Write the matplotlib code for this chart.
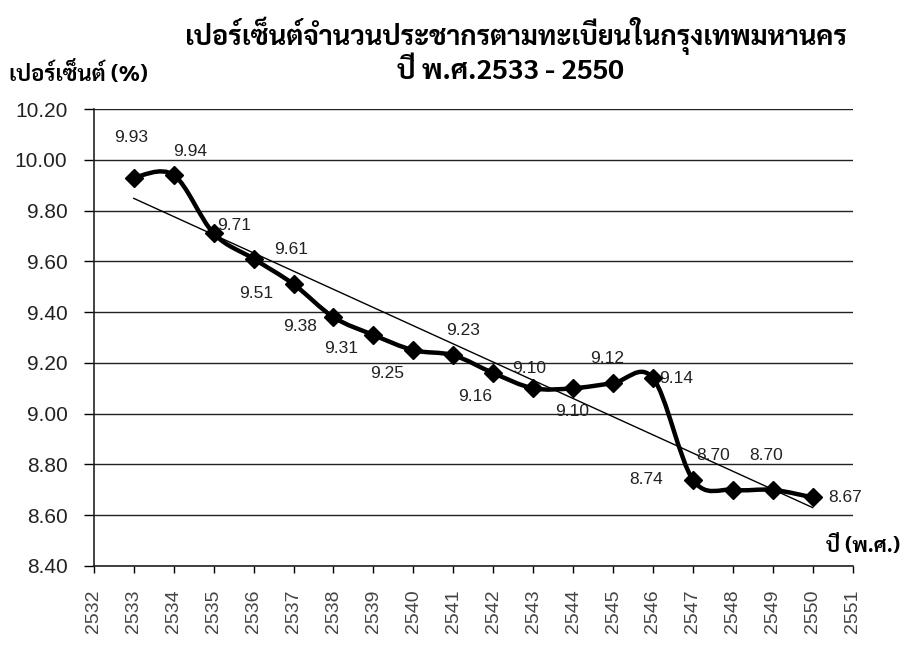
import numpy as np
import matplotlib
matplotlib.use("Agg")
import matplotlib.pyplot as plt
from matplotlib.path import Path
from matplotlib.patches import PathPatch

# ข้อมูล
years = [2533, 2534, 2535, 2536, 2537, 2538, 2539, 2540, 2541,
         2542, 2543, 2544, 2545, 2546, 2547, 2548, 2549, 2550]
percent = [9.93, 9.94, 9.71, 9.61, 9.51, 9.38, 9.31, 9.25, 9.23,
           9.16, 9.10, 9.10, 9.12, 9.14, 8.74, 8.70, 8.70, 8.67]
title_1 = "เปอร์เซ็นต์จำนวนประชากรตามทะเบียนในกรุงเทพมหานคร"
title_2 = "ปี พ.ศ.2533 - 2550"
y_name = "เปอร์เซ็นต์ (%)"
x_name = "ปี (พ.ศ.)"

# ตำแหน่งป้ายตัวเลข (จุด)
label_offsets = [(-2, 29), (12, 17), (15, 6), (27, 7), (-27, -7), (-24, -7),
                 (-23, -10), (-19, -17), (7, 18), (-13, -17), (-3, 14),
                 (-1, -17), (-4, 18), (17, 0), (-34, 0), (-14, 25),
                 (-5, 25), (23, 0)]

thai = ["Sarabun", "DejaVu Sans"]
num_font = "Liberation Sans"

fig = plt.figure(figsize=(9.11, 6.45), dpi=100)
ax = fig.add_axes([0.103, 0.1225, 0.833, 0.7085])

x = np.array(years, dtype=float)
y = np.array(percent)

# เส้นโค้งแบบ smooth (Catmull-Rom -> Bezier)
pts = np.column_stack([x, y])
verts = [pts[0]]
codes = [Path.MOVETO]
n = len(pts)
for i in range(n - 1):
    p0 = pts[i - 1] if i > 0 else pts[i]
    p1 = pts[i]
    p2 = pts[i + 1]
    p3 = pts[i + 2] if i + 2 < n else pts[i + 1]
    c1 = p1 + (p2 - p0) / 6.0
    c2 = p2 - (p3 - p1) / 6.0
    verts += [c1, c2, p2]
    codes += [Path.CURVE4] * 3
ax.add_patch(PathPatch(Path(verts, codes), fill=False, lw=3.2,
                       edgecolor="black", zorder=4))
ax.plot(x, y, linestyle="none", marker="D", ms=9.5, color="black", zorder=5)

# เส้นแนวโน้ม
k, b = np.polyfit(x, y, 1)
ax.plot(x, k * x + b, color="black", lw=1.0, zorder=3)

for xi, yi, off in zip(x, y, label_offsets):
    ax.annotate(f"{yi:.2f}", (xi, yi), xytext=off, textcoords="offset points",
                ha="center", va="center", fontsize=12.5, family=num_font,
                color="#222222", zorder=6)

ax.set_xlim(2532, 2551)
ax.set_ylim(8.40, 10.20)
ax.set_xticks(range(2532, 2552))
ax.set_xticklabels([str(v) for v in range(2532, 2552)], rotation=90,
                   family=num_font, fontsize=14, color="#444444")
yt = np.arange(8.40, 10.21, 0.20)
ax.set_yticks(yt)
ax.set_yticklabels([f"{v:.2f}" for v in yt], family=num_font, fontsize=15,
                   color="#222222")
ax.tick_params(axis="x", direction="out", length=5, pad=12, width=1)
ax.tick_params(axis="y", direction="out", length=7, pad=12, width=1)
ax.grid(axis="y", color="#222222", lw=1)
ax.set_axisbelow(True)
for s in ["top", "right"]:
    ax.spines[s].set_visible(False)
for s in ["left", "bottom"]:
    ax.spines[s].set_color("#222222")
    ax.spines[s].set_linewidth(1.2)

fig.text(0.566, 0.944, title_1, ha="center", va="center", fontsize=19.5,
         fontweight="bold", family=thai)
fig.text(0.56, 0.888, title_2, ha="center", va="center", fontsize=20,
         fontweight="bold", family=thai)
fig.text(0.01, 0.886, y_name, ha="left", va="center", fontsize=16,
         fontweight="bold", family=thai)
fig.text(0.907, 0.152, x_name, ha="left", va="center", fontsize=15,
         fontweight="bold", family=thai)

fig.savefig("out.png", dpi=100)
